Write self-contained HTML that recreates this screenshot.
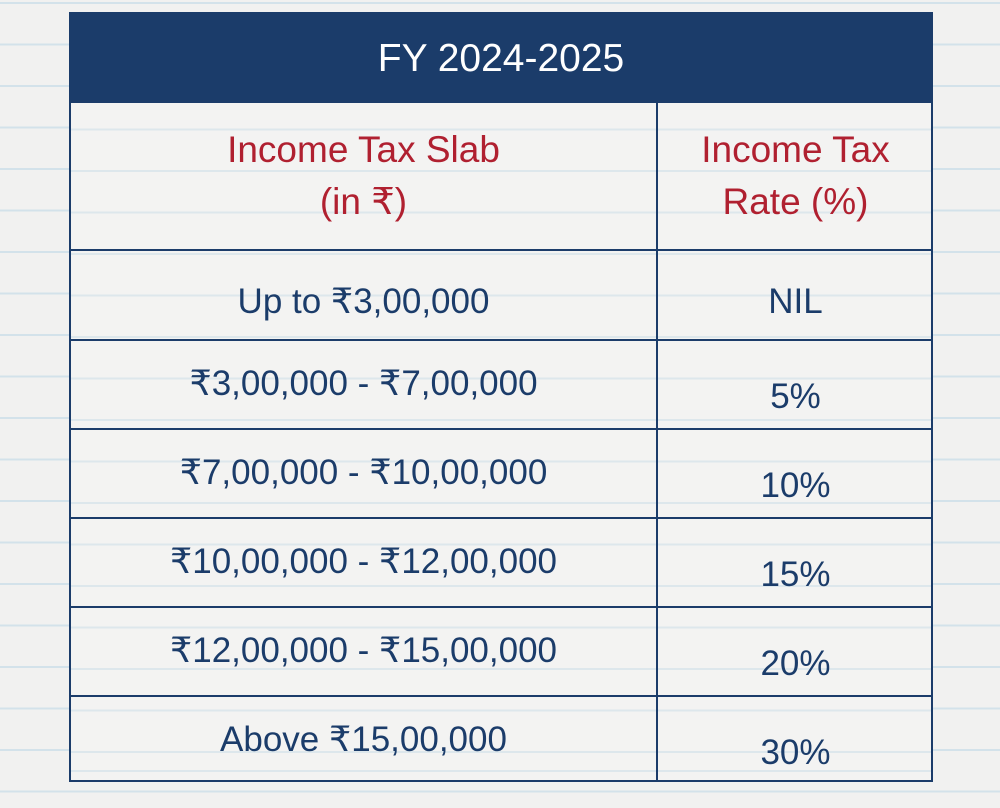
<!DOCTYPE html>
<html><head><meta charset="utf-8"><style>
body{margin:0;width:1000px;height:808px;overflow:hidden;font-family:"Liberation Sans","DejaVu Sans",sans-serif;
background:#f1f1f0 repeating-linear-gradient(to bottom,#d3e2ea 0,#d3e2ea 2px,transparent 2px,transparent 41.5px);background-position:0 2px;}
.t{position:absolute;left:69px;top:12px;width:864px;height:770px;border:2px solid #1b3c6a;box-sizing:border-box;background:#f3f3f2 repeating-linear-gradient(to bottom,#dde7ec 0,#dde7ec 2px,transparent 2px,transparent 41.5px);background-position:0 -10px;}
.hd{position:absolute;left:0;top:0;right:0;height:89px;background:#1b3c6a;color:#fff;font-size:39px;text-align:center;line-height:89px;}
.vl{position:absolute;left:585px;top:89px;bottom:0;width:2px;background:#1b3c6a;}
.hl{position:absolute;left:0;right:0;height:2px;background:#1b3c6a;}
.c{position:absolute;text-align:center;color:#1b3c6a;font-size:35px;}
.r{color:#b02030;font-size:37px;line-height:52px;}
</style></head><body>
<div class="t">
<div class="hd">FY 2024-2025</div>
<div class="vl"></div>
<div class="hl" style="top:235px"></div>
<div class="hl" style="top:325px"></div>
<div class="hl" style="top:414px"></div>
<div class="hl" style="top:503px"></div>
<div class="hl" style="top:592px"></div>
<div class="hl" style="top:681px"></div>
<div class="c r" style="left:0;width:585px;top:110px">Income Tax Slab<br>(in ₹)</div>
<div class="c r" style="left:587px;width:275px;top:110px">Income Tax<br>Rate (%)</div>
<div class="c" style="left:0;width:585px;top:268px">Up to ₹3,00,000</div>
<div class="c" style="left:587px;width:275px;top:268px">NIL</div>
<div class="c" style="left:0;width:585px;top:350px">₹3,00,000 - ₹7,00,000</div>
<div class="c" style="left:587px;width:275px;top:363px">5%</div>
<div class="c" style="left:0;width:585px;top:439px">₹7,00,000 - ₹10,00,000</div>
<div class="c" style="left:587px;width:275px;top:452px">10%</div>
<div class="c" style="left:0;width:585px;top:528px">₹10,00,000 - ₹12,00,000</div>
<div class="c" style="left:587px;width:275px;top:541px">15%</div>
<div class="c" style="left:0;width:585px;top:617px">₹12,00,000 - ₹15,00,000</div>
<div class="c" style="left:587px;width:275px;top:630px">20%</div>
<div class="c" style="left:0;width:585px;top:706px">Above ₹15,00,000</div>
<div class="c" style="left:587px;width:275px;top:719px">30%</div>
</div>
</body></html>
